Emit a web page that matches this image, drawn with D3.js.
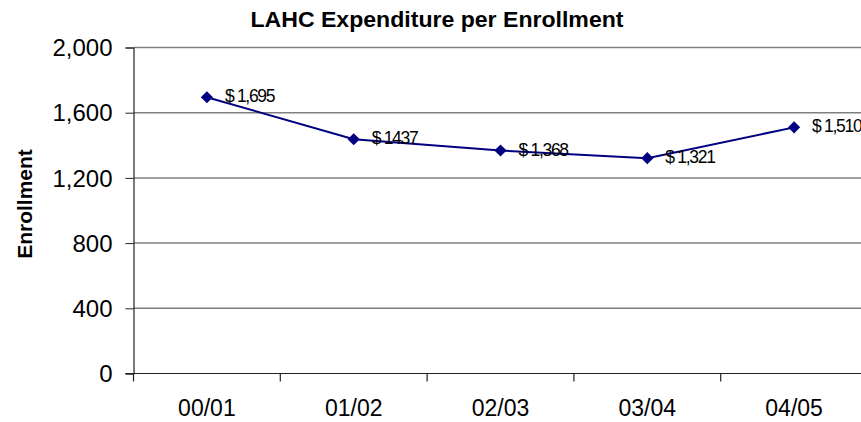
<!DOCTYPE html>
<html>
<head>
<meta charset="utf-8">
<script src="https://cdn.jsdelivr.net/npm/d3@7"></script>
<style>
  html, body { margin: 0; padding: 0; background: #fff; }
  svg { display: block; }
  text { font-family: "Liberation Sans", Arial, sans-serif; fill: #000; }
</style>
</head>
<body>
<script>
const categories = ["00/01", "01/02", "02/03", "03/04", "04/05"];
const values = [1695, 1437, 1368, 1321, 1510];
const dataLabels = ["$ 1,695", "$ 1437", "$ 1,368", "$ 1,321", "$ 1,510"];
const yTicks = [0, 400, 800, 1200, 1600, 2000];
const title = "LAHC Expenditure per Enrollment";
const yTitle = "Enrollment";

const W = 861, H = 422;
const mLeft = 133.5, mRight = 867.5, mTop = 47.5, mBottom = 373.5;

const svg = d3.select("body").append("svg").attr("width", W).attr("height", H);

const x = d3.scaleBand().domain(categories).range([mLeft, mRight]);
const y = d3.scaleLinear().domain([0, 2000]).range([mBottom, mTop]);

// gridlines
svg.append("g").selectAll("line").data(yTicks.filter(d => d > 0)).join("line")
  .attr("x1", mLeft).attr("x2", W)
  .attr("y1", d => y(d)).attr("y2", d => y(d))
  .attr("stroke", "#808080").attr("stroke-width", 1.5);

// y axis
const yAxis = svg.append("g").attr("transform", `translate(${mLeft},0)`)
  .call(d3.axisLeft(y).tickValues(yTicks).tickSize(8).tickPadding(13).tickFormat(d3.format(",")));
yAxis.select(".domain").attr("stroke", "#222").attr("stroke-width", 1.2);
yAxis.selectAll(".tick line").attr("stroke", "#222");
yAxis.selectAll(".tick text").attr("font-size", 24).attr("font-family", "Liberation Sans, Arial, sans-serif").attr("fill", "#000").attr("dy", "0.34em");

// x axis
const xAxis = svg.append("g").attr("transform", `translate(0,${mBottom})`)
  .call(d3.axisBottom(x).tickSize(0).tickPadding(26));
xAxis.select(".domain").remove();
xAxis.selectAll(".tick text").attr("font-size", 23).attr("font-family", "Liberation Sans, Arial, sans-serif").attr("fill", "#000");
svg.append("line").attr("x1", mLeft - 8).attr("x2", W).attr("y1", mBottom).attr("y2", mBottom)
  .attr("stroke", "#222").attr("stroke-width", 1.2);
// category boundary ticks
svg.append("g").selectAll("line").data(categories).join("line")
  .attr("x1", d => x(d)).attr("x2", d => x(d))
  .attr("y1", mBottom).attr("y2", mBottom + 8)
  .attr("stroke", "#222").attr("stroke-width", 1.2);

// line
const cx = (d, i) => x(categories[i]) + x.bandwidth() / 2;
svg.append("path").datum(values)
  .attr("fill", "none").attr("stroke", "#000080").attr("stroke-width", 2)
  .attr("d", d3.line().x((d, i) => cx(d, i)).y(d => y(d)));

// markers
svg.append("g").selectAll("path").data(values).join("path")
  .attr("d", d3.symbol(d3.symbolSquare, 74))
  .attr("transform", (d, i) => `translate(${cx(d, i)},${y(d)}) rotate(45)`)
  .attr("fill", "#000080");

// data labels
svg.append("g").selectAll("text").data(values).join("text")
  .attr("x", (d, i) => cx(d, i) + 18)
  .attr("y", d => y(d) + 5)
  .attr("font-size", 17.5)
  .attr("letter-spacing", "-1.3px")
  .text((d, i) => dataLabels[i]);

// title
svg.append("text").attr("x", 437).attr("y", 27).attr("text-anchor", "middle")
  .attr("font-size", 22).attr("font-weight", "bold")
  .attr("textLength", 373).attr("lengthAdjust", "spacingAndGlyphs")
  .text(title);

// y title
svg.append("text").attr("transform", "translate(32,204) rotate(-90)")
  .attr("text-anchor", "middle").attr("font-size", 21).attr("font-weight", "bold")
  .text(yTitle);
</script>
</body>
</html>
